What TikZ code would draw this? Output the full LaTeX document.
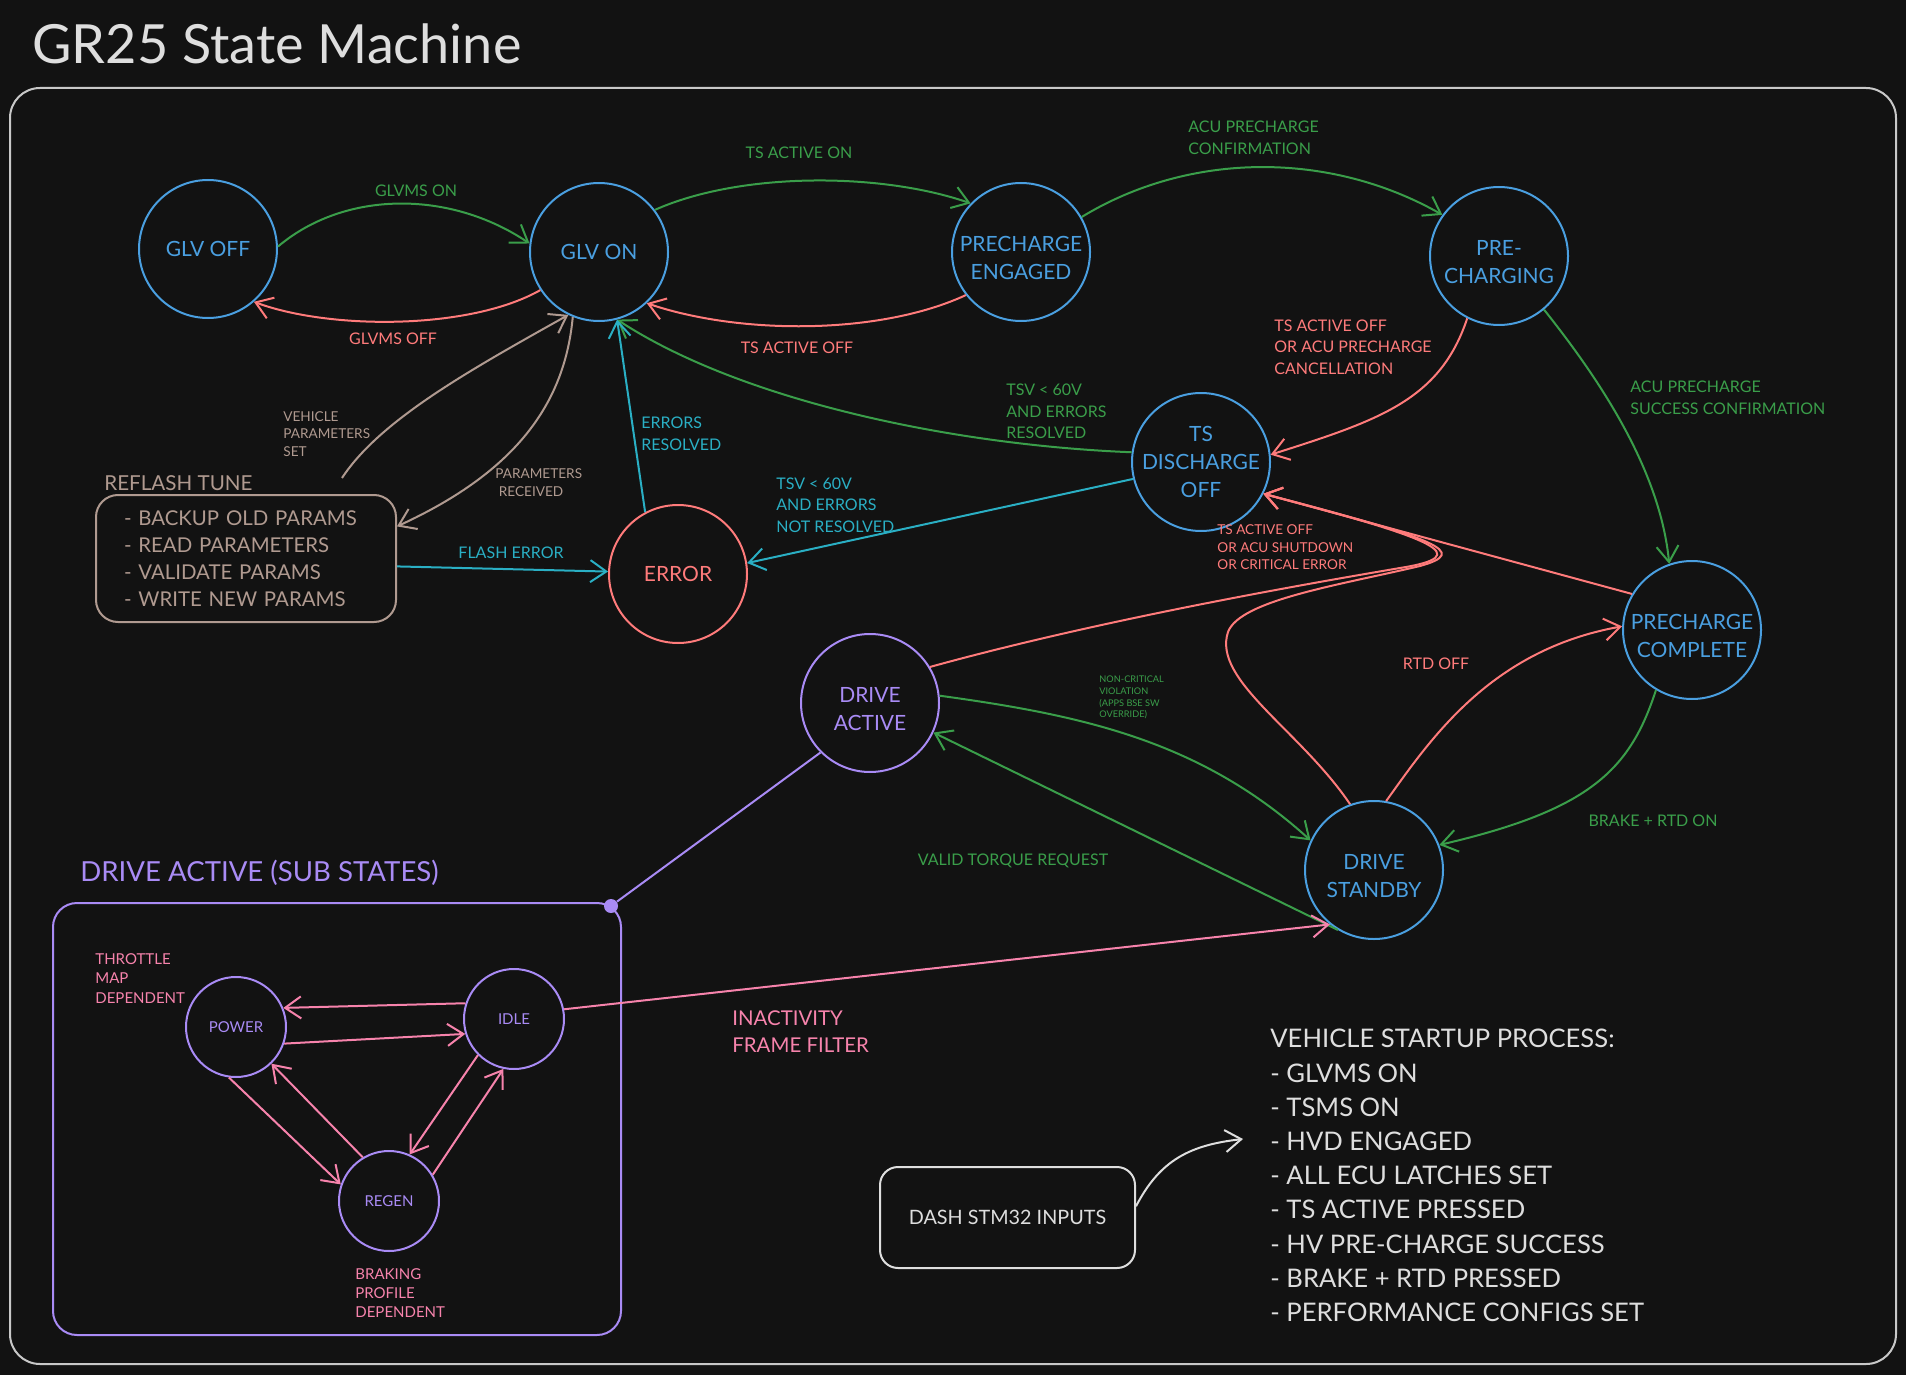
\documentclass[tikz,border=0pt]{standalone}
\usepackage{fontspec}
\setmainfont{Lato}
\usepackage{xcolor}
\usetikzlibrary{positioning,arrows.meta,calc}

\definecolor{bgdark}{HTML}{121212}
\definecolor{stblue}{HTML}{4A9FE0}
\definecolor{trgreen}{HTML}{3A9E4A}
\definecolor{trred}{HTML}{FF7B7B}
\definecolor{trteal}{HTML}{2AAFC4}
\definecolor{trtan}{HTML}{B09A90}
\definecolor{stpurple}{HTML}{A98BF5}
\definecolor{trpink}{HTML}{F783AC}
\definecolor{txtwhite}{HTML}{DEDEDE}

\newcommand{\toppad}{\rule{0pt}{13.6pt}}

\begin{document}
\begin{tikzpicture}[
      x=0.5pt, y=-0.5pt,
      state/.style={circle, draw=stblue, text=stblue, line width=1pt,
                    minimum size=69pt, inner sep=0pt, align=center,
                    font=\fontsize{10.5}{13.8}\selectfont},
      substate/.style={circle, draw=stpurple, text=stpurple, line width=1pt,
                       minimum size=50pt, inner sep=0pt,
                       font=\fontsize{7.5}{9}\selectfont},
      tanbox/.style={draw=trtan, text=trtan, line width=1pt, rounded corners=11pt,
                     minimum width=150pt, minimum height=63.5pt, text width=122pt,
                     align=left, font=\fontsize{10.2}{13.5}\selectfont},
      lbl/.style={inner sep=0pt, align=left, font=\fontsize{8}{10.8}\selectfont},
      smalllbl/.style={inner sep=0pt, align=left, font=\fontsize{6.8}{8.8}\selectfont},
      tinylbl/.style={inner sep=0pt, align=left, font=\fontsize{4.6}{5.9}\selectfont},
      sublbl/.style={inner sep=0pt, align=left, font=\fontsize{7.5}{9.7}\selectfont},
      arr/.style={line width=1pt, -{Straight Barb[length=8pt,width=11pt]}},
    ]
    \fill[bgdark] (0,0) rectangle (1906,1375);
    \useasboundingbox (0,0) rectangle (1906,1375);

    \node[anchor=west, inner sep=0pt, text=txtwhite,
          font=\fontsize{27}{31}\selectfont] (title) at (32,44) {GR25 State Machine};
    \draw[txtwhite!90!black, line width=1pt, rounded corners=15pt]
      (10,88) rectangle (1896,1364);

    % states
    \node[state] (glvoff) at (208,249) {GLV OFF};
    \node[state] (glvon) at (599,252) {GLV ON};
    \node[state] (preeng) at (1021,252) {\toppad PRECHARGE\\ENGAGED};
    \node[state] (prechg) at (1499,256) {\toppad PRE-\\CHARGING};
    \node[state] (tsdis) at (1201,462) {TS\\DISCHARGE\\OFF};
    \node[state, draw=trred, text=trred] (err) at (678,574) {ERROR};
    \node[state] (pcomp) at (1692,630) {\toppad PRECHARGE\\COMPLETE};
    \node[state, draw=stpurple, text=stpurple] (dact) at (870,703) {\toppad DRIVE\\ACTIVE};
    \node[state] (dstby) at (1374,870) {\toppad DRIVE\\STANDBY};

    \node[tanbox] (reflash) at (246,558.5)
      {- BACKUP OLD PARAMS\\- READ PARAMETERS\\- VALIDATE PARAMS\\- WRITE NEW PARAMS};
    \node[anchor=west, inner sep=0pt, text=trtan,
          font=\fontsize{10.3}{13}\selectfont] (reflashtitle) at (104,483) {REFLASH TUNE};
    \coordinate (vpsstart) at (342,478);

    % drive active sub states
    \node[draw=stpurple, line width=1pt, rounded corners=12pt,
          minimum width=284pt, minimum height=216pt] (subbox) at (337,1119) {};
    \node[anchor=west, inner sep=0pt, text=stpurple,
          font=\fontsize{13.8}{16}\selectfont] (subtitle) at (80,873) {DRIVE ACTIVE (SUB STATES)};
    \node[circle, fill=stpurple, minimum size=7pt, inner sep=0pt] (subdot) at (611,906) {};
    \node[substate] (power) at (236,1027) {POWER};
    \node[substate] (idle) at (514,1019) {IDLE};
    \node[substate] (regen) at (389,1201) {REGEN};

    \node[draw=txtwhite, text=txtwhite, line width=1pt, rounded corners=9pt,
          minimum width=127.5pt, minimum height=50.5pt,
          font=\fontsize{9.9}{12}\selectfont] (dash) at (1007.5,1217.5) {DASH STM32 INPUTS};
    \node[anchor=north west, align=left, inner sep=0pt, text=txtwhite,
          font=\fontsize{12.8}{17.1}\selectfont] (startup) at (1270,1029)
      {VEHICLE STARTUP PROCESS:\\- GLVMS ON\\- TSMS ON\\- HVD ENGAGED\\- ALL ECU LATCHES SET\\
       - TS ACTIVE PRESSED\\- HV PRE-CHARGE SUCCESS\\- BRAKE + RTD PRESSED\\- PERFORMANCE CONFIGS SET};
    \coordinate (startarr) at (1243,1139);

    % transitions
    \draw[arr, trgreen] (glvoff.2) .. controls (345,190) and (450,190) .. (glvon.173);
    \draw[arr, trred] (glvon.213) .. controls (470,330) and (330,330) .. (glvoff.311);
    \draw[arr, trgreen] (glvon.37) .. controls (740,172) and (880,172) .. (preeng.136);
    \draw[arr, trred] (preeng.218) .. controls (880,335) and (740,335) .. (glvon.313);
    \draw[arr, trgreen] (preeng.30) .. controls (1190,151) and (1330,151) .. (prechg.144);
    \draw[arr, trred] (prechg.243) .. controls (1440,400) and (1380,420) .. (tsdis.6);
    \draw[arr, trgreen] (prechg.310) .. controls (1600,380) and (1660,470) .. (pcomp.109);
    \draw[arr, trgreen] (tsdis.172) .. controls (950,445) and (740,400) .. (glvon.285);
    \draw[arr, trteal] (tsdis.194) -- (err.9);
    \draw[arr, trteal] (err.118) -- (glvon.285);
    \draw[arr, trtan] (vpsstart) .. controls (380,420) and (470,370) .. (glvon.244);
    \draw[arr, trtan] (glvon.248) .. controls (565,400) and (520,470) .. (reflash.12);
    \draw[arr, trteal] (reflash.-3) -- (err.178);
    \draw[arr, trred] (pcomp.149) -- (tsdis.333);
    \draw[arr, trred] (dact.31) .. controls (1100,620) and (1300,585) .. (1400,568)
      .. controls (1475,556) and (1440,540) .. (tsdis.333);
    \draw[arr, trred] (dstby.110) .. controls (1300,730) and (1212,680) .. (1228,632)
      .. controls (1240,600) and (1340,585) .. (1420,566)
      .. controls (1470,552) and (1440,540) .. (tsdis.333);
    \draw[arr, trgreen] (dact.6) .. controls (1080,715) and (1200,740) .. (dstby.155);
    \draw[arr, trgreen] (dstby.239) -- (dact.335);
    \draw[arr, trred] (dstby.80) .. controls (1430,740) and (1490,650) .. (pcomp.177);
    \draw[arr, trgreen] (pcomp.239) .. controls (1630,770) and (1590,810) .. (dstby.21);
    \draw[stpurple, line width=1pt] (dact.225) -- (subdot);
    \draw[arr, trpink] (idle.11) -- (dstby.231);
    \draw[arr, trpink] (idle.162) -- (power.22);
    \draw[arr, trpink] (power.341) -- (idle.197);
    \draw[arr, trpink] (power.262) -- (regen.161);
    \draw[arr, trpink] (regen.121) -- (power.314);
    \draw[arr, trpink] (idle.225) -- (regen.66);
    \draw[arr, trpink] (regen.31) -- (idle.258);
    \draw[arr, txtwhite] (dash.5) .. controls (1160,1160) and (1190,1145) .. (startarr);

    % labels
    \node[lbl, text=trgreen] (lglvmson) at (416,191) {GLVMS ON};
    \node[lbl, text=trred] (lglvmsoff) at (393,339) {GLVMS OFF};
    \node[lbl, text=trgreen] (ltson) at (799,153) {TS ACTIVE ON};
    \node[lbl, text=trred] (ltsoff) at (797,348) {TS ACTIVE OFF};
    \node[lbl, text=trgreen, anchor=west] (lacuconf) at (1188,137.5) {ACU PRECHARGE\\CONFIRMATION};
    \node[lbl, text=trred, anchor=west] (lcancel) at (1274,347) {TS ACTIVE OFF\\OR ACU PRECHARGE\\CANCELLATION};
    \node[lbl, text=trgreen, anchor=west] (lsuccess) at (1630,397.5) {ACU PRECHARGE\\SUCCESS CONFIRMATION};
    \node[lbl, text=trgreen, anchor=west] (lresolved) at (1006,411.5) {TSV < 60V\\AND ERRORS\\RESOLVED};
    \node[lbl, text=trteal, anchor=west] (lnotres) at (776,505) {TSV < 60V\\AND ERRORS\\NOT RESOLVED};
    \node[lbl, text=trteal, anchor=west] (lerrres) at (641,433.5) {ERRORS\\RESOLVED};
    \node[smalllbl, text=trtan, anchor=west] (lvps) at (283,434) {VEHICLE\\PARAMETERS\\SET};
    \node[smalllbl, text=trtan, anchor=west] (lprecv) at (495,482.5) {PARAMETERS\\\ RECEIVED};
    \node[lbl, text=trteal] (lflash) at (511,553) {FLASH ERROR};
    \node[smalllbl, text=trred, anchor=west] (lshut) at (1217,547.5) {TS ACTIVE OFF\\OR ACU SHUTDOWN\\OR CRITICAL ERROR};
    \node[lbl, text=trred] (lrtdoff) at (1436,664) {RTD OFF};
    \node[tinylbl, text=trgreen, anchor=west] (lnoncrit) at (1099,697.5) {NON-CRITICAL\\VIOLATION\\(APPS BSE SW\\OVERRIDE)};
    \node[lbl, text=trgreen] (lvalid) at (1013,861) {VALID TORQUE REQUEST};
    \node[lbl, text=trgreen] (lbrake) at (1653,821) {BRAKE + RTD ON};
    \node[anchor=west, align=left, inner sep=0pt, text=trpink,
          font=\fontsize{10.2}{13.4}\selectfont] (linact) at (732,1032) {INACTIVITY\\FRAME FILTER};
    \node[sublbl, text=trpink, anchor=west] (lthrottle) at (95,978.5) {THROTTLE\\MAP\\DEPENDENT};
    \node[sublbl, text=trpink, anchor=west] (lbraking) at (355,1293) {BRAKING\\PROFILE\\DEPENDENT};
  \end{tikzpicture}
\end{document}
